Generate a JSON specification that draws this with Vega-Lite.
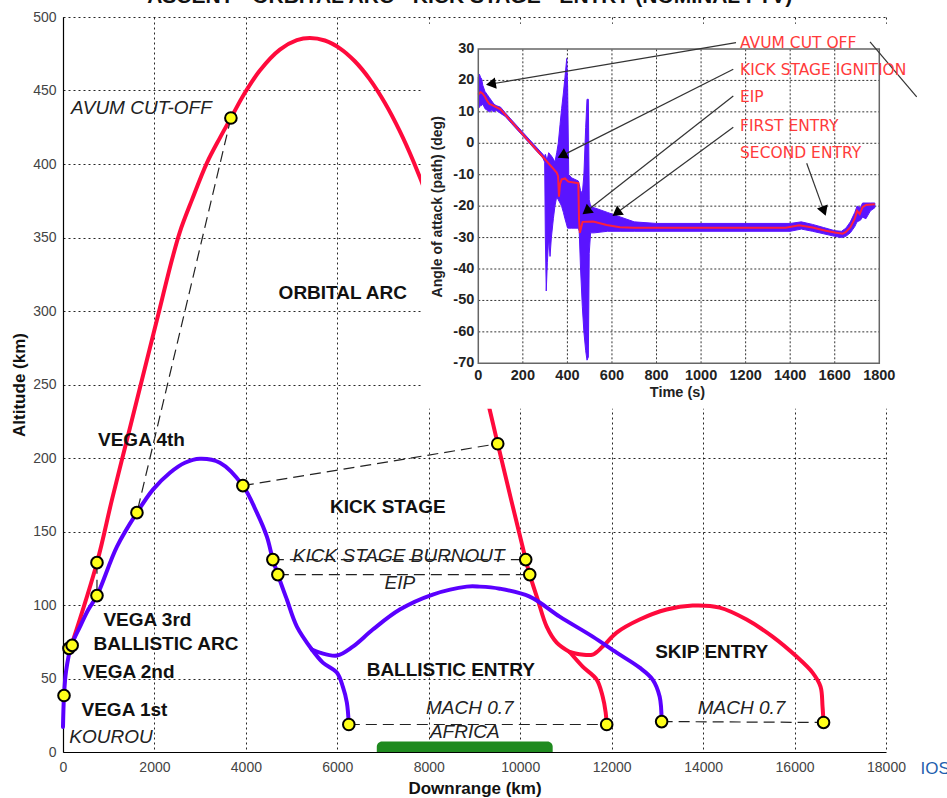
{
  "$schema": "https://vega.github.io/schema/vega-lite/v6.json",
  "autosize": "none",
  "width": 823,
  "height": 735,
  "padding": {"left": 63, "top": 17, "right": 61, "bottom": 46},
  "background": "white",
  "config": {"view": {"stroke": null}, "font": "Liberation Sans"},
  "datasets": {
    "traj": [
      {"path": "orbital", "seg": "o1", "i": 0, "x": 175, "y": 71.7},
      {"path": "orbital", "seg": "o1", "i": 1, "x": 743, "y": 128.8},
      {"path": "orbital", "seg": "o1", "i": 2, "x": 1071, "y": 171.7},
      {"path": "orbital", "seg": "o1", "i": 3, "x": 1399, "y": 212.4},
      {"path": "orbital", "seg": "o1", "i": 4, "x": 1727, "y": 253.2},
      {"path": "orbital", "seg": "o1", "i": 5, "x": 2055, "y": 294.0},
      {"path": "orbital", "seg": "o1", "i": 6, "x": 2383, "y": 334.8},
      {"path": "orbital", "seg": "o1", "i": 7, "x": 2557, "y": 353.9},
      {"path": "orbital", "seg": "o1", "i": 8, "x": 2820, "y": 375.6},
      {"path": "orbital", "seg": "o1", "i": 9, "x": 3148, "y": 400.8},
      {"path": "orbital", "seg": "o1", "i": 10, "x": 3432, "y": 417.8},
      {"path": "orbital", "seg": "o1", "i": 11, "x": 3672, "y": 431.3},
      {"path": "orbital", "seg": "o1", "i": 12, "x": 3956, "y": 447.3},
      {"path": "orbital", "seg": "o1", "i": 13, "x": 4306, "y": 463.6},
      {"path": "orbital", "seg": "o1", "i": 14, "x": 4743, "y": 477.8},
      {"path": "orbital", "seg": "o1", "i": 15, "x": 5115, "y": 484.2},
      {"path": "orbital", "seg": "o1", "i": 16, "x": 5399, "y": 485.7},
      {"path": "orbital", "seg": "o1", "i": 17, "x": 5727, "y": 484.0},
      {"path": "orbital", "seg": "o1", "i": 18, "x": 6055, "y": 478.7},
      {"path": "orbital", "seg": "o1", "i": 19, "x": 6383, "y": 469.9},
      {"path": "orbital", "seg": "o1", "i": 20, "x": 6710, "y": 457.6},
      {"path": "orbital", "seg": "o1", "i": 21, "x": 7038, "y": 441.7},
      {"path": "orbital", "seg": "o1", "i": 22, "x": 7366, "y": 422.4},
      {"path": "orbital", "seg": "o1", "i": 23, "x": 7672, "y": 401.2},
      {"path": "orbital", "seg": "o1", "i": 24, "x": 7978, "y": 376.9},
      {"path": "orbital", "seg": "o1", "i": 25, "x": 8459, "y": 332.8},
      {"path": "orbital", "seg": "o1", "i": 26, "x": 8896, "y": 285.9},
      {"path": "orbital", "seg": "o1", "i": 27, "x": 9290, "y": 238.3},
      {"path": "orbital", "seg": "o1", "i": 28, "x": 9508, "y": 209.7},
      {"path": "orbital", "seg": "o1", "i": 29, "x": 10120, "y": 130.9},
      {"path": "orbital", "seg": "o1", "i": 30, "x": 10208, "y": 120.7},
      {"path": "orbital", "seg": "o1", "i": 31, "x": 10383, "y": 103.7},
      {"path": "orbital", "seg": "o1", "i": 32, "x": 10579, "y": 85.3},
      {"path": "orbital", "seg": "o1", "i": 33, "x": 10798, "y": 74.4},
      {"path": "orbital", "seg": "o1", "i": 34, "x": 11082, "y": 68.0},
      {"path": "orbital", "seg": "o2", "i": 0, "x": 11082, "y": 68.0},
      {"path": "orbital", "seg": "o2", "i": 1, "x": 11366, "y": 58.1},
      {"path": "orbital", "seg": "o2", "i": 2, "x": 11672, "y": 49.3},
      {"path": "orbital", "seg": "o2", "i": 3, "x": 11803, "y": 37.7},
      {"path": "orbital", "seg": "o2", "i": 4, "x": 11869, "y": 26.9},
      {"path": "orbital", "seg": "o2", "i": 5, "x": 11891, "y": 18.7},
      {"path": "orbital", "seg": "o3", "i": 0, "x": 11082, "y": 68.0},
      {"path": "orbital", "seg": "o3", "i": 1, "x": 11344, "y": 66.3},
      {"path": "orbital", "seg": "o3", "i": 2, "x": 11585, "y": 66.3},
      {"path": "orbital", "seg": "o3", "i": 3, "x": 11803, "y": 71.7},
      {"path": "orbital", "seg": "o3", "i": 4, "x": 12109, "y": 81.2},
      {"path": "orbital", "seg": "o3", "i": 5, "x": 12612, "y": 90.1},
      {"path": "orbital", "seg": "o3", "i": 6, "x": 13202, "y": 96.9},
      {"path": "orbital", "seg": "o3", "i": 7, "x": 13770, "y": 99.6},
      {"path": "orbital", "seg": "o3", "i": 8, "x": 14361, "y": 98.2},
      {"path": "orbital", "seg": "o3", "i": 9, "x": 14951, "y": 90.1},
      {"path": "orbital", "seg": "o3", "i": 10, "x": 15519, "y": 78.5},
      {"path": "orbital", "seg": "o3", "i": 11, "x": 16044, "y": 64.9},
      {"path": "orbital", "seg": "o3", "i": 12, "x": 16393, "y": 54.0},
      {"path": "orbital", "seg": "o3", "i": 13, "x": 16568, "y": 44.5},
      {"path": "orbital", "seg": "o3", "i": 14, "x": 16612, "y": 30.9},
      {"path": "orbital", "seg": "o3", "i": 15, "x": 16634, "y": 20.1},
      {"path": "ballistic", "seg": "b1", "i": 0, "x": 0, "y": 17.0},
      {"path": "ballistic", "seg": "b1", "i": 1, "x": 22, "y": 38.4},
      {"path": "ballistic", "seg": "b1", "i": 2, "x": 66, "y": 54.7},
      {"path": "ballistic", "seg": "b1", "i": 3, "x": 175, "y": 71.7},
      {"path": "ballistic", "seg": "b1", "i": 4, "x": 372, "y": 85.3},
      {"path": "ballistic", "seg": "b1", "i": 5, "x": 555, "y": 96.9},
      {"path": "ballistic", "seg": "b1", "i": 6, "x": 743, "y": 106.4},
      {"path": "ballistic", "seg": "b1", "i": 7, "x": 1180, "y": 139.7},
      {"path": "ballistic", "seg": "b1", "i": 8, "x": 1617, "y": 162.8},
      {"path": "ballistic", "seg": "b1", "i": 9, "x": 1967, "y": 178.5},
      {"path": "ballistic", "seg": "b1", "i": 10, "x": 2339, "y": 190.0},
      {"path": "ballistic", "seg": "b1", "i": 11, "x": 2667, "y": 196.8},
      {"path": "ballistic", "seg": "b1", "i": 12, "x": 2995, "y": 199.5},
      {"path": "ballistic", "seg": "b1", "i": 13, "x": 3432, "y": 196.8},
      {"path": "ballistic", "seg": "b1", "i": 14, "x": 3934, "y": 181.2},
      {"path": "ballistic", "seg": "b1", "i": 15, "x": 4240, "y": 162.8},
      {"path": "ballistic", "seg": "b1", "i": 16, "x": 4459, "y": 146.5},
      {"path": "ballistic", "seg": "b1", "i": 17, "x": 4590, "y": 130.9},
      {"path": "ballistic", "seg": "b1", "i": 18, "x": 4699, "y": 120.7},
      {"path": "ballistic", "seg": "b1", "i": 19, "x": 4896, "y": 103.7},
      {"path": "ballistic", "seg": "b1", "i": 20, "x": 5115, "y": 85.3},
      {"path": "ballistic", "seg": "b1", "i": 21, "x": 5443, "y": 69.7},
      {"path": "ballistic", "seg": "b2", "i": 0, "x": 5443, "y": 69.7},
      {"path": "ballistic", "seg": "b2", "i": 1, "x": 5683, "y": 60.8},
      {"path": "ballistic", "seg": "b2", "i": 2, "x": 5989, "y": 54.0},
      {"path": "ballistic", "seg": "b2", "i": 3, "x": 6120, "y": 44.5},
      {"path": "ballistic", "seg": "b2", "i": 4, "x": 6208, "y": 33.7},
      {"path": "ballistic", "seg": "b2", "i": 5, "x": 6251, "y": 18.7},
      {"path": "ballistic", "seg": "b3", "i": 0, "x": 5443, "y": 69.7},
      {"path": "ballistic", "seg": "b3", "i": 1, "x": 5617, "y": 67.6},
      {"path": "ballistic", "seg": "b3", "i": 2, "x": 5989, "y": 65.6},
      {"path": "ballistic", "seg": "b3", "i": 3, "x": 6339, "y": 71.7},
      {"path": "ballistic", "seg": "b3", "i": 4, "x": 6776, "y": 83.3},
      {"path": "ballistic", "seg": "b3", "i": 5, "x": 7366, "y": 96.9},
      {"path": "ballistic", "seg": "b3", "i": 6, "x": 8087, "y": 107.1},
      {"path": "ballistic", "seg": "b3", "i": 7, "x": 8831, "y": 112.5},
      {"path": "ballistic", "seg": "b3", "i": 8, "x": 9115, "y": 112.5},
      {"path": "ballistic", "seg": "b3", "i": 9, "x": 9552, "y": 111.1},
      {"path": "ballistic", "seg": "b3", "i": 10, "x": 10208, "y": 105.7},
      {"path": "ballistic", "seg": "b3", "i": 11, "x": 10863, "y": 92.1},
      {"path": "ballistic", "seg": "b3", "i": 12, "x": 11585, "y": 78.5},
      {"path": "ballistic", "seg": "b3", "i": 13, "x": 12109, "y": 67.6},
      {"path": "ballistic", "seg": "b3", "i": 14, "x": 12612, "y": 57.4},
      {"path": "ballistic", "seg": "b3", "i": 15, "x": 12896, "y": 49.3},
      {"path": "ballistic", "seg": "b3", "i": 16, "x": 13049, "y": 37.7},
      {"path": "ballistic", "seg": "b3", "i": 17, "x": 13093, "y": 20.7}
    ],
    "events": [
      {"x": 22, "y": 38.4}, {"x": 130, "y": 70.5}, {"x": 200, "y": 72.5},
      {"x": 743, "y": 128.8}, {"x": 743, "y": 106.4}, {"x": 1617, "y": 162.8},
      {"x": 3672, "y": 431.3}, {"x": 3934, "y": 181.2}, {"x": 9508, "y": 209.7},
      {"x": 4590, "y": 130.9}, {"x": 4699, "y": 120.7}, {"x": 10120, "y": 130.9},
      {"x": 10208, "y": 120.7}, {"x": 6251, "y": 18.7}, {"x": 11891, "y": 18.7},
      {"x": 13093, "y": 20.7}, {"x": 16634, "y": 20.1}
    ],
    "links": [
      {"x": 3672, "y": 431.3, "xe": 1617, "ye": 162.8},
      {"x": 743, "y": 128.8, "xe": 743, "ye": 106.4},
      {"x": 3934, "y": 181.2, "xe": 9508, "ye": 209.7},
      {"x": 4590, "y": 130.9, "xe": 10120, "ye": 130.9},
      {"x": 4699, "y": 120.7, "xe": 10208, "ye": 120.7},
      {"x": 6251, "y": 18.7, "xe": 11891, "ye": 18.7},
      {"x": 13093, "y": 20.7, "xe": 16634, "ye": 20.1}
    ],
    "africa": [{"x": 6863, "xe": 10710, "y": 0, "ye": 7.1}],
    "phases": [
      {"text": "ORBITAL ARC", "x": 6120, "y": 312.4},
      {"text": "VEGA 4th", "x": 1716, "y": 212.4},
      {"text": "KICK STAGE", "x": 7104, "y": 166.9},
      {"text": "VEGA 3rd", "x": 1847, "y": 90.1},
      {"text": "BALLISTIC ARC", "x": 2251, "y": 73.8},
      {"text": "VEGA 2nd", "x": 1432, "y": 54.7},
      {"text": "BALLISTIC ENTRY", "x": 8481, "y": 56.1},
      {"text": "SKIP ENTRY", "x": 14186, "y": 68.3},
      {"text": "VEGA 1st", "x": 1344, "y": 28.9}
    ],
    "eventNames": [
      {"text": "AVUM CUT-OFF", "x": 1716, "y": 438.1},
      {"text": "KICK STAGE BURNOUT", "x": 7344, "y": 133.6},
      {"text": "EIP", "x": 7366, "y": 115.2},
      {"text": "MACH 0.7", "x": 8896, "y": 29.6},
      {"text": "AFRICA", "x": 8787, "y": 13.3},
      {"text": "MACH 0.7", "x": 14841, "y": 30.2},
      {"text": "KOUROU", "x": 1049, "y": 10.5}
    ],
    "heading": [{"text": "ASCENT - ORBITAL ARC - KICK STAGE - ENTRY (NOMINAL FTV)", "x": 8896, "y": 509.5}],
    "mark": [{"text": "IOS", "x": 18754, "y": -11.5}],
    "insetPanel": [{"t": -257, "te": 2060, "v": -84.5, "ve": 38}],
    "insetFrame": [{"t": 0, "te": 1800, "v": -70, "ve": 30}],
    "insetGridX": [
      {"t": 200, "v": -70, "ve": 30}, {"t": 400, "v": -70, "ve": 30}, {"t": 600, "v": -70, "ve": 30},
      {"t": 800, "v": -70, "ve": 30}, {"t": 1000, "v": -70, "ve": 30}, {"t": 1200, "v": -70, "ve": 30},
      {"t": 1400, "v": -70, "ve": 30}, {"t": 1600, "v": -70, "ve": 30}
    ],
    "insetGridY": [
      {"v": -60, "t": 0, "te": 1800}, {"v": -50, "t": 0, "te": 1800}, {"v": -40, "t": 0, "te": 1800},
      {"v": -30, "t": 0, "te": 1800}, {"v": -20, "t": 0, "te": 1800}, {"v": -10, "t": 0, "te": 1800},
      {"v": 0, "t": 0, "te": 1800}, {"v": 10, "t": 0, "te": 1800}, {"v": 20, "t": 0, "te": 1800}
    ],
    "insetTicksX": [
      {"t": 0, "v": -70}, {"t": 200, "v": -70}, {"t": 400, "v": -70}, {"t": 600, "v": -70},
      {"t": 800, "v": -70}, {"t": 1000, "v": -70}, {"t": 1200, "v": -70}, {"t": 1400, "v": -70},
      {"t": 1600, "v": -70}, {"t": 1800, "v": -70}
    ],
    "insetTicksY": [
      {"v": -70, "t": 0, "label": "-70"}, {"v": -60, "t": 0, "label": "-60"}, {"v": -50, "t": 0, "label": "-50"},
      {"v": -40, "t": 0, "label": "-40"}, {"v": -30, "t": 0, "label": "-30"}, {"v": -20, "t": 0, "label": "-20"},
      {"v": -10, "t": 0, "label": "-10"}, {"v": 0, "t": 0, "label": "0"}, {"v": 10, "t": 0, "label": "10"},
      {"v": 20, "t": 0, "label": "20"}, {"v": 30, "t": 0, "label": "30"}
    ],
    "aoaBand": [
      {"t": 0, "hi": 21, "lo": 11}, {"t": 5, "hi": 22, "lo": 11.5}, {"t": 10, "hi": 21, "lo": 12},
      {"t": 15, "hi": 20.5, "lo": 12}, {"t": 20, "hi": 18.5, "lo": 12.5}, {"t": 30, "hi": 16.5, "lo": 11},
      {"t": 40, "hi": 15.5, "lo": 10.5}, {"t": 50, "hi": 14.5, "lo": 10}, {"t": 60, "hi": 13.5, "lo": 10.5},
      {"t": 70, "hi": 12.5, "lo": 10}, {"t": 80, "hi": 12, "lo": 10.5}, {"t": 100, "hi": 11.5, "lo": 9.5},
      {"t": 120, "hi": 9.8, "lo": 8.6}, {"t": 150, "hi": 7.4, "lo": 6.2}, {"t": 200, "hi": 3.5, "lo": 2.3},
      {"t": 250, "hi": -0.4, "lo": -1.6}, {"t": 290, "hi": -3.5, "lo": -4.7}, {"t": 298, "hi": -4.2, "lo": -6},
      {"t": 301, "hi": -3.5, "lo": -30}, {"t": 305, "hi": -4.5, "lo": -47}, {"t": 310, "hi": -5, "lo": -38},
      {"t": 316, "hi": -3, "lo": -30}, {"t": 322, "hi": -3.5, "lo": -36}, {"t": 328, "hi": -4, "lo": -30},
      {"t": 337, "hi": -5, "lo": -24}, {"t": 344, "hi": -6, "lo": -20}, {"t": 352, "hi": -3, "lo": -17},
      {"t": 359, "hi": 0, "lo": -18}, {"t": 367, "hi": 6, "lo": -19}, {"t": 374, "hi": 11, "lo": -20},
      {"t": 382, "hi": 16, "lo": -22}, {"t": 389, "hi": 21, "lo": -24}, {"t": 397, "hi": 27, "lo": -26},
      {"t": 401, "hi": 18, "lo": -27}, {"t": 406, "hi": -10, "lo": -27}, {"t": 419, "hi": -11, "lo": -27},
      {"t": 434, "hi": -11.5, "lo": -27}, {"t": 449, "hi": -12, "lo": -27}, {"t": 453, "hi": -13, "lo": -28},
      {"t": 459, "hi": -15, "lo": -40}, {"t": 467, "hi": -16, "lo": -52}, {"t": 474, "hi": -10, "lo": -60},
      {"t": 482, "hi": 5, "lo": -66}, {"t": 488, "hi": 14, "lo": -69}, {"t": 494, "hi": 14, "lo": -68},
      {"t": 498, "hi": -18, "lo": -35}, {"t": 504, "hi": -20, "lo": -28.5}, {"t": 520, "hi": -20.5, "lo": -28.5},
      {"t": 580, "hi": -22, "lo": -28}, {"t": 640, "hi": -23.5, "lo": -28}, {"t": 700, "hi": -25, "lo": -28},
      {"t": 800, "hi": -25.5, "lo": -28}, {"t": 1400, "hi": -25.5, "lo": -28}, {"t": 1450, "hi": -25, "lo": -27.3},
      {"t": 1500, "hi": -25.8, "lo": -28}, {"t": 1550, "hi": -26.8, "lo": -28.8}, {"t": 1600, "hi": -27.8, "lo": -29.6},
      {"t": 1630, "hi": -28, "lo": -30}, {"t": 1650, "hi": -27, "lo": -29.6}, {"t": 1670, "hi": -25, "lo": -28.5},
      {"t": 1690, "hi": -22, "lo": -26.5}, {"t": 1700, "hi": -20, "lo": -25}, {"t": 1715, "hi": -20.5, "lo": -24.5},
      {"t": 1725, "hi": -19, "lo": -23.5}, {"t": 1740, "hi": -19, "lo": -24}, {"t": 1760, "hi": -19, "lo": -21.5},
      {"t": 1780, "hi": -19, "lo": -20.5}
    ],
    "aoaLine": [
      {"t": 0, "v": 15.5}, {"t": 10, "v": 16.3}, {"t": 20, "v": 15.8}, {"t": 30, "v": 14.8},
      {"t": 40, "v": 13.5}, {"t": 50, "v": 12.5}, {"t": 60, "v": 12.2}, {"t": 80, "v": 11.5},
      {"t": 100, "v": 10.8}, {"t": 352, "v": -9.3}, {"t": 358, "v": -10.5}, {"t": 362, "v": -17},
      {"t": 367, "v": -13}, {"t": 374, "v": -11.5}, {"t": 389, "v": -11.2}, {"t": 404, "v": -12.2},
      {"t": 449, "v": -12.7}, {"t": 452, "v": -24}, {"t": 456, "v": -28.5}, {"t": 468, "v": -25},
      {"t": 516, "v": -24.9}, {"t": 576, "v": -26}, {"t": 636, "v": -26.7}, {"t": 700, "v": -26.9},
      {"t": 1380, "v": -26.9}, {"t": 1440, "v": -26.1}, {"t": 1500, "v": -26.8}, {"t": 1560, "v": -27.8},
      {"t": 1600, "v": -28.4}, {"t": 1635, "v": -28.8}, {"t": 1650, "v": -28.2}, {"t": 1670, "v": -26.8},
      {"t": 1690, "v": -24}, {"t": 1700, "v": -21.5}, {"t": 1712, "v": -22.5}, {"t": 1725, "v": -20.3},
      {"t": 1740, "v": -19.6}, {"t": 1780, "v": -19.4}
    ],
    "insetNotes": [
      {"text": "AVUM CUT OFF", "t": 1174.7, "v": 32.0},
      {"text": "KICK STAGE IGNITION", "t": 1174.7, "v": 23.3},
      {"text": "EIP", "t": 1174.7, "v": 14.6},
      {"text": "FIRST ENTRY", "t": 1174.7, "v": 5.5},
      {"text": "SECOND ENTRY", "t": 1174.7, "v": -3.2}
    ],
    "insetArrows": [
      {"t1": 1156.7, "v1": 32.0, "t2": 56.6, "v2": 18.86},
      {"t1": 1144.6, "v1": 23.54, "t2": 376.2, "v2": -3.92},
      {"t1": 1144.6, "v1": 15.05, "t2": 485.2, "v2": -21.64},
      {"t1": 1144.6, "v1": 5.09, "t2": 620.4, "v2": -22.2},
      {"t1": 1474.1, "v1": -6.37, "t2": 1551.8, "v2": -21.58},
      {"t1": 1758.3, "v1": 32.3, "t2": 1967.9, "v2": 14.8}
    ],
    "insetHeads": [
      {"t": 56.6, "v": 18.86, "dir": 260.4},
      {"t": 376.2, "v": -3.92, "dir": 243.3},
      {"t": 485.2, "v": -21.64, "dir": 231.9},
      {"t": 620.4, "v": -22.2, "dir": 233.7},
      {"t": 1551.8, "v": -21.58, "dir": 160.1}
    ],
    "insetTitles": [{"text": "Time (s)", "t": 894, "v": -79.5}],
    "insetYTitle": [{"text": "Angle of attack (path) (deg)", "t": -179.6, "v": -20.2}]
  },
  "layer": [
    {
      "encoding": {
        "x": {
          "field": "x", "type": "quantitative",
          "scale": {"domain": [0, 18000], "nice": false, "zero": false},
          "axis": {
            "title": "Downrange (km)", "values": [0, 2000, 4000, 6000, 8000, 10000, 12000, 14000, 16000, 18000],
            "format": "d", "grid": true, "gridColor": "#000", "gridDash": [2, 3], "gridOpacity": 0.85,
            "domainColor": "#000", "domainWidth": 1.2, "ticks": false, "labelFlush": false, "labelOverlap": false,
            "labelFontSize": 14, "labelColor": "#444", "labelPadding": 8,
            "titleFontSize": 17, "titleFontWeight": "bold", "titleColor": "#111", "titlePadding": 6
          }
        },
        "y": {
          "field": "y", "type": "quantitative",
          "scale": {"domain": [0, 500], "nice": false, "zero": false},
          "axis": {
            "title": "Altitude (km)", "values": [0, 50, 100, 150, 200, 250, 300, 350, 400, 450, 500],
            "format": "d", "grid": true, "gridColor": "#000", "gridDash": [2, 3], "gridOpacity": 0.85,
            "domainColor": "#000", "domainWidth": 1.2, "ticks": false, "labelOverlap": false,
            "labelFontSize": 14, "labelColor": "#444", "labelPadding": 7,
            "titleFontSize": 17, "titleFontWeight": "bold", "titleColor": "#111", "titlePadding": 4
          }
        }
      },
      "layer": [
        {
          "data": {"name": "africa"},
          "mark": {"type": "rect", "color": "#1f8a1f", "cornerRadiusTopLeft": 6, "cornerRadiusTopRight": 6},
          "encoding": {"x2": {"field": "xe"}, "y2": {"field": "ye"}}
        },
        {
          "data": {"name": "traj"},
          "transform": [{"filter": "datum.path === 'orbital'"}],
          "mark": {"type": "line", "color": "#ff0a3c", "strokeWidth": 4, "strokeCap": "round", "strokeJoin": "round", "interpolate": "catmull-rom"},
          "encoding": {"detail": {"field": "seg"}, "order": {"field": "i", "type": "quantitative"}}
        },
        {
          "data": {"name": "traj"},
          "transform": [{"filter": "datum.path === 'ballistic'"}],
          "mark": {"type": "line", "color": "#5a00ff", "strokeWidth": 4, "strokeCap": "round", "strokeJoin": "round", "interpolate": "catmull-rom"},
          "encoding": {"detail": {"field": "seg"}, "order": {"field": "i", "type": "quantitative"}}
        },
        {
          "data": {"name": "links"},
          "mark": {"type": "rule", "color": "#222", "strokeWidth": 1.2, "strokeDash": [11, 6]},
          "encoding": {"x2": {"field": "xe"}, "y2": {"field": "ye"}}
        },
        {
          "data": {"name": "events"},
          "mark": {"type": "point", "shape": "circle", "filled": true, "fill": "#ffff1a", "stroke": "#000", "strokeWidth": 2, "size": 135, "opacity": 1}
        },
        {
          "data": {"name": "phases"},
          "mark": {"type": "text", "font": "Liberation Sans", "fontWeight": "bold", "fontSize": 19, "color": "#111", "align": "center", "baseline": "middle"},
          "encoding": {"text": {"field": "text"}}
        },
        {
          "data": {"name": "eventNames"},
          "mark": {"type": "text", "font": "Liberation Sans", "fontStyle": "italic", "fontSize": 19, "color": "#222", "align": "center", "baseline": "middle"},
          "encoding": {"text": {"field": "text"}}
        },
        {
          "data": {"name": "heading"},
          "mark": {"type": "text", "font": "Liberation Sans", "fontWeight": "bold", "fontSize": 21, "color": "#111", "align": "center", "baseline": "alphabetic"},
          "encoding": {"text": {"field": "text"}}
        },
        {
          "data": {"name": "mark"},
          "mark": {"type": "text", "font": "Liberation Sans", "fontSize": 17, "color": "#1f5fae", "align": "left", "baseline": "middle"},
          "encoding": {"text": {"field": "text"}}
        }
      ]
    },
    {
      "encoding": {
        "x": {"field": "t", "type": "quantitative", "scale": {"domain": [-1864.2, 1830.1], "nice": false, "zero": false}, "axis": null},
        "y": {"field": "v", "type": "quantitative", "scale": {"domain": [-193.67, 40.18], "nice": false, "zero": false}, "axis": null}
      },
      "layer": [
        {
          "data": {"name": "insetPanel"},
          "mark": {"type": "rect", "fill": "white", "opacity": 1},
          "encoding": {"x2": {"field": "te"}, "y2": {"field": "ve"}}
        },
        {
          "data": {"name": "insetGridX"},
          "mark": {"type": "rule", "color": "#000", "strokeWidth": 1, "strokeDash": [2, 2], "opacity": 0.8},
          "encoding": {"y2": {"field": "ve"}}
        },
        {
          "data": {"name": "insetGridY"},
          "mark": {"type": "rule", "color": "#000", "strokeWidth": 1, "strokeDash": [2, 2], "opacity": 0.8},
          "encoding": {"x2": {"field": "te"}}
        },
        {
          "data": {"name": "aoaBand"},
          "mark": {"type": "area", "color": "#5a14ff", "opacity": 1, "stroke": "#5a14ff", "strokeWidth": 1},
          "encoding": {"y": {"field": "hi", "type": "quantitative", "axis": null}, "y2": {"field": "lo"}}
        },
        {
          "data": {"name": "aoaLine"},
          "mark": {"type": "line", "color": "#ff1f3d", "strokeWidth": 2}
        },
        {
          "data": {"name": "insetFrame"},
          "mark": {"type": "rect", "fill": "white", "fillOpacity": 0, "stroke": "#666", "strokeWidth": 1.5},
          "encoding": {"x2": {"field": "te"}, "y2": {"field": "ve"}}
        },
        {
          "data": {"name": "insetTicksX"},
          "mark": {"type": "text", "font": "Liberation Sans", "fontWeight": "bold", "fontSize": 14.5, "color": "#222", "align": "center", "baseline": "middle", "dy": 13},
          "encoding": {"text": {"field": "t", "type": "quantitative", "format": "d"}}
        },
        {
          "data": {"name": "insetTicksY"},
          "mark": {"type": "text", "font": "Liberation Sans", "fontWeight": "bold", "fontSize": 14.5, "color": "#222", "align": "right", "baseline": "middle", "dx": -4},
          "encoding": {"text": {"field": "label"}}
        },
        {
          "data": {"name": "insetTitles"},
          "mark": {"type": "text", "font": "Liberation Sans", "fontWeight": "bold", "fontSize": 14.5, "color": "#222", "align": "center", "baseline": "middle"},
          "encoding": {"text": {"field": "text"}}
        },
        {
          "data": {"name": "insetYTitle"},
          "mark": {"type": "text", "font": "Liberation Sans", "fontWeight": "bold", "fontSize": 14, "color": "#222", "align": "center", "baseline": "middle", "angle": 270},
          "encoding": {"text": {"field": "text"}}
        },
        {
          "data": {"name": "insetArrows"},
          "mark": {"type": "rule", "color": "#333", "strokeWidth": 1.2},
          "encoding": {
            "x": {"field": "t1", "type": "quantitative", "axis": null}, "y": {"field": "v1", "type": "quantitative", "axis": null},
            "x2": {"field": "t2"}, "y2": {"field": "v2"}
          }
        },
        {
          "data": {"name": "insetHeads"},
          "mark": {"type": "point", "shape": "triangle-up", "filled": true, "color": "#000", "size": 130, "opacity": 1},
          "encoding": {"angle": {"field": "dir", "type": "quantitative", "scale": null}}
        },
        {
          "data": {"name": "insetNotes"},
          "mark": {"type": "text", "font": "DejaVu Sans", "fontSize": 15.5, "color": "#ff3b3b", "align": "left", "baseline": "middle"},
          "encoding": {"text": {"field": "text"}}
        }
      ]
    }
  ],
  "resolve": {"scale": {"x": "independent", "y": "independent"}}
}
